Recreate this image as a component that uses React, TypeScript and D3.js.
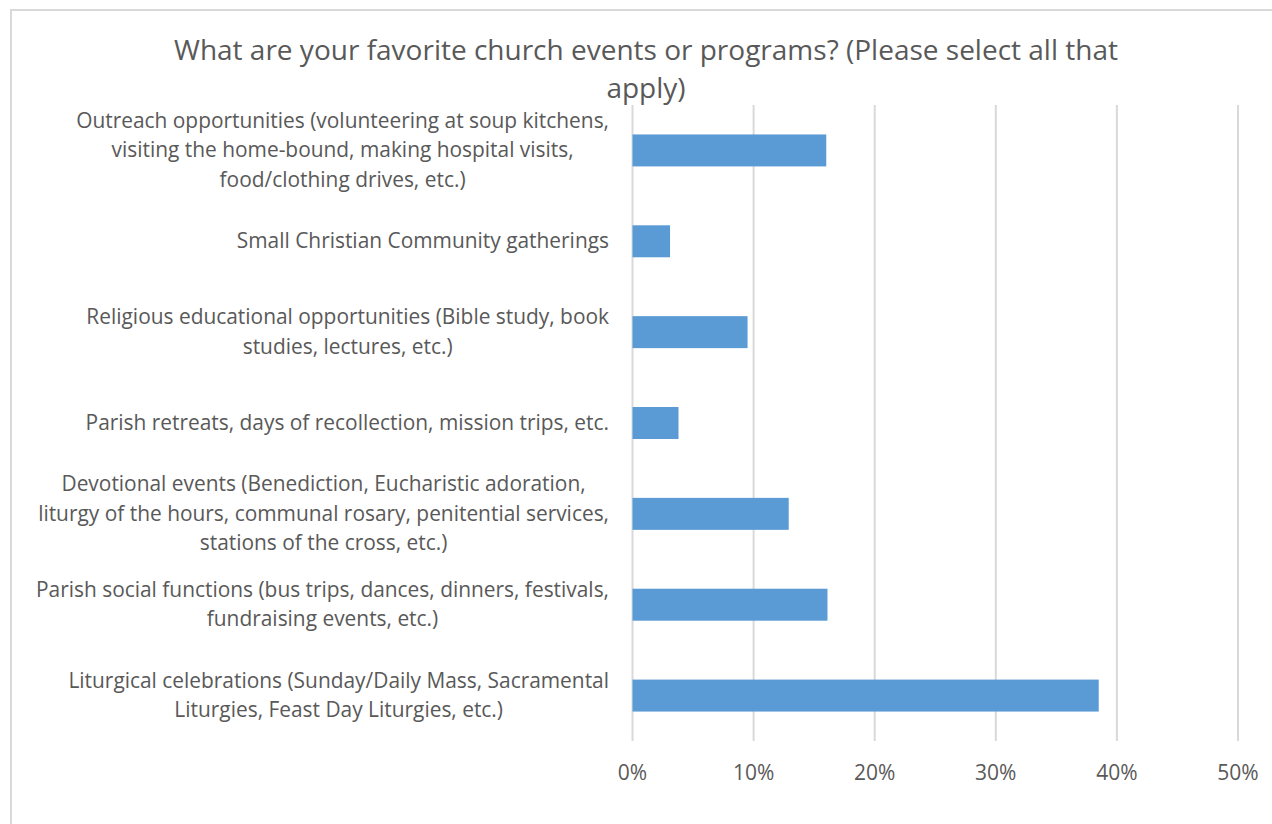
import * as d3 from 'd3';
import { useEffect, useRef } from 'react';

const WIDTH = 1272;
const HEIGHT = 824;
const MARGIN = { top: 105, right: 34, bottom: 83, left: 632.5 };
const TITLE_LINES = ['What are your favorite church events or programs? (Please select all that', 'apply)'];

// categories top to bottom, line breaks as in the original chart
const CATEGORIES = [
    'Outreach opportunities (volunteering at soup kitchens,\nvisiting the home-bound, making hospital visits,\nfood/clothing drives, etc.)',
    'Small Christian Community gatherings',
    'Religious educational opportunities (Bible study, book\nstudies, lectures, etc.)',
    'Parish retreats, days of recollection, mission trips, etc.',
    'Devotional events (Benediction, Eucharistic adoration,\nliturgy of the hours, communal rosary, penitential services,\nstations of the cross, etc.)',
    'Parish social functions (bus trips, dances, dinners, festivals,\nfundraising events, etc.)',
    'Liturgical celebrations (Sunday/Daily Mass, Sacramental\nLiturgies, Feast Day Liturgies, etc.)',
];
const VALUES = [0.16, 0.031, 0.095, 0.038, 0.129, 0.161, 0.385];
const TICKS = [0, 0.1, 0.2, 0.3, 0.4, 0.5];

const TEXT_COLOR = '#595959';
const GRID_COLOR = '#d9d9d9';
const BAR_COLOR = '#5b9bd5';
const FONT = '"Open Sans", Lato, sans-serif';

const App = () => {
    const svgRef = useRef<SVGSVGElement>(null);

    useEffect(() => {
        if (!svgRef.current) return;
        const svg = d3.select(svgRef.current);
        svg.selectAll('*').remove();

        const xScale = d3.scaleLinear().domain([0, 0.5]).range([MARGIN.left, WIDTH - MARGIN.right]);
        const yScale = d3
            .scaleBand<string>()
            .domain(CATEGORIES)
            .range([MARGIN.top, HEIGHT - MARGIN.bottom])
            .paddingInner(0.648)
            .paddingOuter(0.324);

        svg.append('rect')
            .attr('x', 0)
            .attr('y', 0)
            .attr('width', WIDTH)
            .attr('height', HEIGHT)
            .attr('fill', '#fff');

        // chart border (runs off the right and bottom edges)
        svg.append('rect')
            .attr('x', 11)
            .attr('y', 10)
            .attr('width', WIDTH + 20)
            .attr('height', HEIGHT + 20)
            .attr('fill', 'none')
            .attr('stroke', GRID_COLOR)
            .attr('stroke-width', 2);

        // title
        svg.append('text')
            .attr('font-family', FONT)
            .attr('font-size', 28)
            .attr('fill', TEXT_COLOR)
            .attr('text-anchor', 'middle')
            .selectAll('tspan')
            .data(TITLE_LINES)
            .enter()
            .append('tspan')
            .attr('x', 646)
            .attr('y', (_d, i) => 60 + i * 38)
            .text((d) => d);

        // gridlines
        svg.append('g')
            .selectAll('line')
            .data(TICKS)
            .enter()
            .append('line')
            .attr('x1', (d) => xScale(d))
            .attr('x2', (d) => xScale(d))
            .attr('y1', MARGIN.top)
            .attr('y2', HEIGHT - MARGIN.bottom)
            .attr('stroke', GRID_COLOR)
            .attr('stroke-width', 2);

        // x tick labels
        svg.append('g')
            .selectAll('text')
            .data(TICKS)
            .enter()
            .append('text')
            .attr('x', (d) => xScale(d))
            .attr('y', 780)
            .attr('text-anchor', 'middle')
            .attr('font-family', FONT)
            .attr('font-size', 21)
            .attr('fill', TEXT_COLOR)
            .text((d) => d3.format('.0%')(d));

        // bars
        svg.append('g')
            .selectAll('rect')
            .data(CATEGORIES)
            .enter()
            .append('rect')
            .attr('x', xScale(0))
            .attr('y', (d) => yScale(d)!)
            .attr('width', (_d, i) => xScale(VALUES[i]) - xScale(0))
            .attr('height', yScale.bandwidth())
            .attr('fill', BAR_COLOR);

        // category labels: block right-aligned, lines centered within the block
        const lineHeight = 29.5;
        const labelRight = 609;
        CATEGORIES.forEach((cat) => {
            const lines = cat.split('\n');
            const cy = yScale(cat)! + yScale.bandwidth() / 2;
            const text = svg
                .append('text')
                .attr('font-family', FONT)
                .attr('font-size', 20.9)
                .attr('fill', TEXT_COLOR)
                .attr('text-anchor', 'middle');
            const spans = lines.map((line, i) =>
                text
                    .append('tspan')
                    .attr('y', cy + (i - (lines.length - 1) / 2) * lineHeight + 7)
                    .text(line)
            );
            const maxW = d3.max(spans, (s) => (s.node() as SVGTSpanElement).getComputedTextLength()) ?? 0;
            spans.forEach((s) => s.attr('x', labelRight - maxW / 2));
        });
    }, []);

    return (
        <svg
            ref={svgRef}
            width={WIDTH}
            height={HEIGHT}
            style={{ position: 'absolute', left: 0, top: 0, display: 'block' }}
        ></svg>
    );
};

export default App;
